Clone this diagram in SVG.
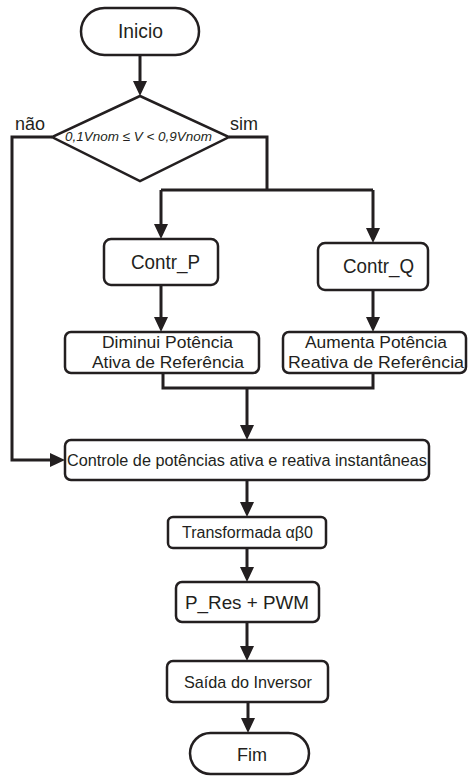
<svg xmlns="http://www.w3.org/2000/svg" width="468" height="776" viewBox="0 0 468 776">
<style>
.box{fill:#fff;stroke:#231f20;stroke-width:2.5}
.ln{fill:none;stroke:#231f20;stroke-width:3}
text{font-family:"Liberation Sans",Arial,sans-serif;fill:#231f20;text-anchor:middle}
</style>
<defs>
<marker id="ah" markerUnits="userSpaceOnUse" markerWidth="16" markerHeight="14" refX="0" refY="7" orient="auto">
<path d="M0,0 L15,7 L0,14 z" fill="#231f20"/>
</marker>
</defs>
<rect width="468" height="776" fill="#fff"/>
<g id="connectors">
<path class="ln" d="M140,55 V81" marker-end="url(#ah)"/>
<path class="ln" d="M52,137 H12 V460 H50" marker-end="url(#ah)"/>
<path class="ln" d="M229,137 H267 V190"/>
<path class="ln" d="M161,190 H373"/>
<path class="ln" d="M161,190 V224" marker-end="url(#ah)"/>
<path class="ln" d="M373,190 V228" marker-end="url(#ah)"/>
<path class="ln" d="M161,285 V317" marker-end="url(#ah)"/>
<path class="ln" d="M373,290 V317" marker-end="url(#ah)"/>
<path class="ln" d="M163,373 V388 H373 V373"/>
<path class="ln" d="M247,388 V425" marker-end="url(#ah)"/>
<path class="ln" d="M247,480 V502" marker-end="url(#ah)"/>
<path class="ln" d="M247,548 V567" marker-end="url(#ah)"/>
<path class="ln" d="M247,622 V646" marker-end="url(#ah)"/>
<path class="ln" d="M248,702 V718" marker-end="url(#ah)"/>
</g>
<g id="labels">
<text x="30" y="130" font-size="17.5" textLength="30" lengthAdjust="spacingAndGlyphs">não</text>
<text x="244" y="130" font-size="17.5" textLength="28" lengthAdjust="spacingAndGlyphs">sim</text>
</g>
<g id="inicio">
<rect class="box" x="81" y="8" width="118" height="47" rx="23.5"/>
<text x="140.5" y="38" font-size="19.5" textLength="45" lengthAdjust="spacingAndGlyphs">Inicio</text>
</g>
<g id="decisao">
<path class="box" d="M140,96 L229,137 L140,181 L52,137 Z"/>
<text x="138.5" y="141" font-size="13.5" font-style="italic" textLength="147" lengthAdjust="spacingAndGlyphs">0,1Vnom ≤ V &lt; 0,9Vnom</text>
</g>
<g id="contr_p">
<rect class="box" x="104" y="239" width="114" height="46" rx="7"/>
<text x="165.5" y="269" font-size="19.5" textLength="69" lengthAdjust="spacingAndGlyphs">Contr_P</text>
</g>
<g id="contr_q">
<rect class="box" x="318" y="243" width="110" height="47" rx="7"/>
<text x="378.5" y="273" font-size="19.5" textLength="71" lengthAdjust="spacingAndGlyphs">Contr_Q</text>
</g>
<g id="diminui">
<rect class="box" x="65" y="332" width="194" height="41" rx="6"/>
<text x="167.5" y="348" font-size="17.4" textLength="131" lengthAdjust="spacingAndGlyphs">Diminui Potência</text>
<text x="168" y="368" font-size="17.4" textLength="152" lengthAdjust="spacingAndGlyphs">Ativa de Referência</text>
</g>
<g id="aumenta">
<rect class="box" x="283" y="332" width="183" height="41" rx="6"/>
<text x="376" y="348" font-size="17.4" textLength="142" lengthAdjust="spacingAndGlyphs">Aumenta Potência</text>
<text x="376" y="368" font-size="17.4" textLength="176" lengthAdjust="spacingAndGlyphs">Reativa de Referência</text>
</g>
<g id="controle">
<rect class="box" x="65" y="440" width="364" height="40" rx="6"/>
<text x="247" y="466" font-size="16.3" textLength="360" lengthAdjust="spacingAndGlyphs">Controle de potências ativa e reativa instantâneas</text>
</g>
<g id="transformada">
<rect class="box" x="168" y="517" width="158" height="31" rx="5"/>
<text x="247.5" y="538" font-size="16" textLength="131" lengthAdjust="spacingAndGlyphs">Transformada αβ0</text>
</g>
<g id="pres">
<rect class="box" x="176" y="582" width="143" height="40" rx="6"/>
<text x="247" y="609" font-size="18.8" textLength="124" lengthAdjust="spacingAndGlyphs">P_Res + PWM</text>
</g>
<g id="saida">
<rect class="box" x="167" y="661" width="161" height="41" rx="6"/>
<text x="248" y="688" font-size="16.4" textLength="128" lengthAdjust="spacingAndGlyphs">Saída do Inversor</text>
</g>
<g id="fim">
<rect class="box" x="190" y="733" width="119" height="41" rx="20.5"/>
<text x="252" y="761" font-size="17.6" textLength="30" lengthAdjust="spacingAndGlyphs">Fim</text>
</g>
</svg>
